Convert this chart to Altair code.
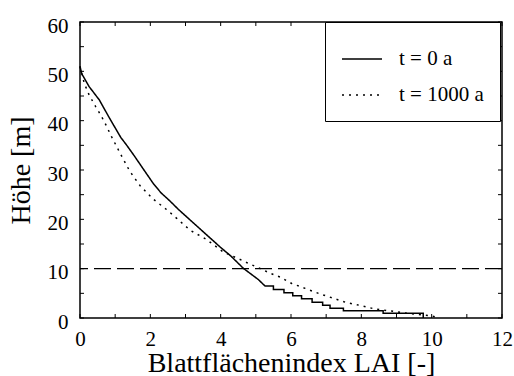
import altair as alt
import pandas as pd

# --- data ---
serien = ["t = 0 a", "t = 1000 a"]

solid_lai = [0.0, 0.05, 0.26, 0.55, 0.84, 1.16, 1.33, 1.56, 1.8, 2.08, 2.3, 2.56, 2.8, 3.08,
             3.5, 4.0, 4.3, 4.64, 5.07, 5.26, 5.5, 5.5, 5.8, 5.8, 6.05, 6.05, 6.3, 6.3, 6.6,
             6.6, 6.9, 6.9, 7.11, 7.11, 7.49, 7.49, 8.62, 8.62, 9.76, 9.76]
solid_hoehe = [51.0, 49.5, 46.9, 44.2, 40.5, 36.6, 35.0, 32.7, 30.2, 27.3, 25.4, 23.7, 22.0, 20.2,
               17.5, 14.3, 12.5, 10.1, 7.8, 6.5, 6.5, 5.8, 5.8, 5.1, 5.1, 4.5, 4.5, 3.9, 3.9,
               3.2, 3.2, 2.6, 2.6, 2.0, 2.0, 1.45, 1.45, 0.95, 0.95, 0.0]

dotted_lai = [0.0, 0.12, 0.26, 0.45, 0.6, 0.74, 0.88, 1.14, 1.42, 1.71, 2.08, 2.46, 2.75, 3.13,
              3.6, 4.07, 4.45, 4.78, 5.1, 5.4, 5.69, 6.02, 6.4, 6.78, 7.16, 7.59, 8.0, 8.4,
              8.86, 9.28, 9.52, 10.0, 10.2]
dotted_hoehe = [51.0, 47.6, 45.2, 42.8, 41.0, 39.1, 37.0, 33.4, 29.7, 26.8, 24.1, 22.0, 20.2, 17.8,
                15.9, 13.4, 12.2, 11.1, 10.1, 9.1, 8.3, 7.0, 6.0, 5.0, 4.1, 3.1, 2.5, 1.8,
                1.4, 0.95, 0.8, 0.4, 0.05]

grenzhoehe = [10]

x_ticks = list(range(0, 13))
y_ticks = list(range(0, 61, 5))
x_labels = [0, 2, 4, 6, 8, 10, 12]
y_labels = [0, 10, 20, 30, 40, 50, 60]

W, H = 422, 296
FONT = "Liberation Serif"

rows = []
for i, (x, y) in enumerate(zip(solid_lai, solid_hoehe)):
    rows.append({"lai": x, "h": y, "serie": serien[0], "i": i})
for i, (x, y) in enumerate(zip(dotted_lai, dotted_hoehe)):
    rows.append({"lai": x, "h": y, "serie": serien[1], "i": i})
df = pd.DataFrame(rows)

xscale = alt.Scale(domain=[0, 12], nice=False, zero=False)
yscale = alt.Scale(domain=[0, 60], nice=False, zero=False)

xaxis = alt.Axis(values=x_labels, ticks=False, domain=False, grid=False,
                 labelFont=FONT, labelFontSize=21, labelColor="black", labelPadding=10,
                 labelFlush=False,
                 title="Blattflächenindex LAI [-]", titleFont=FONT, titleFontSize=28,
                 titleFontWeight="normal", titleColor="black",
                 titleBaseline="alphabetic", titleY=53)
yaxis = alt.Axis(values=y_labels, ticks=False, domain=False, grid=False,
                 labelFont=FONT, labelFontSize=21, labelColor="black", labelPadding=12,
                 labelOffset=4, labelFlush=False,
                 title="Höhe [m]", titleFont=FONT, titleFontSize=28,
                 titleFontWeight="normal", titleColor="black",
                 titleBaseline="alphabetic", titleAngle=-90, titleX=-51, titleY=H / 2,
                 titleAlign="center")

lines = alt.Chart(df).mark_line(strokeWidth=1.5, color="black", strokeCap="butt").encode(
    x=alt.X("lai:Q", scale=xscale, axis=xaxis),
    y=alt.Y("h:Q", scale=yscale, axis=yaxis),
    order="i:Q",
    strokeDash=alt.StrokeDash(
        "serie:N",
        scale=alt.Scale(domain=serien, range=[[1, 0], [2, 5]]),
        legend=alt.Legend(orient="none", legendX=245, legendY=0, title=None,
                          strokeColor="black", fillColor="white", padding=16,
                          symbolType="stroke", symbolSize=1600, symbolStrokeWidth=1.5,
                          symbolStrokeColor="black", labelFont=FONT, labelFontSize=21,
                          labelColor="black", labelOffset=16, rowPadding=5, labelLimit=300),
    ),
)

ref = alt.Chart(pd.DataFrame({"h": grenzhoehe})).mark_rule(
    color="black", strokeWidth=1.3, strokeDash=[17, 6]
).encode(y=alt.Y("h:Q", scale=yscale))

tx = pd.DataFrame({"v": x_ticks})
ty = pd.DataFrame({"v": y_ticks})
tick_style = dict(color="black", strokeWidth=1)
tb = alt.Chart(tx).mark_rule(**tick_style).encode(
    x=alt.X("v:Q", scale=xscale), y=alt.value(H), y2=alt.value(H - 4))
tt = alt.Chart(tx).mark_rule(**tick_style).encode(
    x=alt.X("v:Q", scale=xscale), y=alt.value(0), y2=alt.value(4))
tl = alt.Chart(ty).mark_rule(**tick_style).encode(
    y=alt.Y("v:Q", scale=yscale), x=alt.value(0), x2=alt.value(4))
tr = alt.Chart(ty).mark_rule(**tick_style).encode(
    y=alt.Y("v:Q", scale=yscale), x=alt.value(W), x2=alt.value(W - 4))

chart = alt.layer(ref, tb, tt, tl, tr, lines).properties(
    width=W, height=H,
    padding={"left": 80, "top": 22, "right": 12, "bottom": 58},
    autosize=alt.AutoSizeParams(type="none"),
).configure(background="white", font=FONT).configure_view(
    stroke="black", strokeWidth=1.5
).configure_axis(labelFont=FONT, titleFont=FONT).configure_legend(labelFont=FONT)

chart.save("out.html", embed_options={"renderer": "svg", "actions": False})
